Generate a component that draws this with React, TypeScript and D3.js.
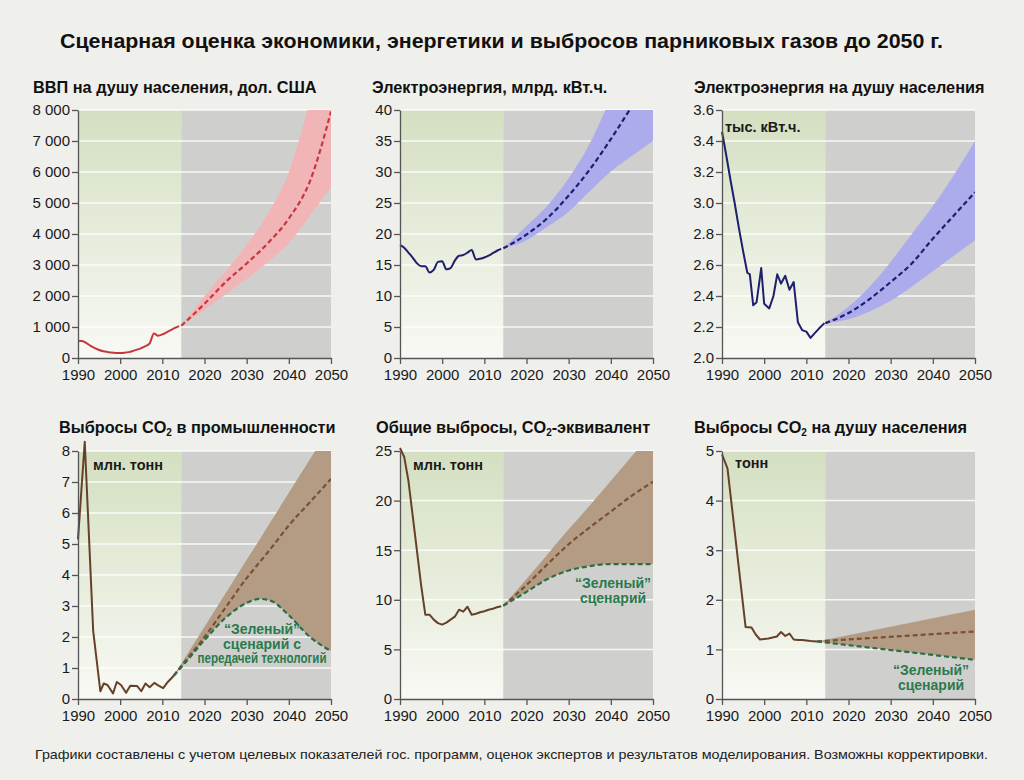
import * as d3 from 'd3'
import { useEffect, useRef } from 'react'

// ---- data ----
const histYears = [1990, 1991, 1992, 1993, 1994, 1995, 1996, 1997, 1998, 1999, 2000, 2001, 2002, 2003, 2004, 2005, 2006, 2007, 2008, 2009, 2010, 2011, 2012, 2013, 2014]
const fcYears = [2014.5, 2020, 2025, 2030, 2035, 2040, 2045, 2050]
const xTicks = [1990, 2000, 2010, 2020, 2030, 2040, 2050]

// ВВП на душу населения
const gdpHist = [560, 550, 480, 390, 320, 260, 220, 195, 175, 165, 160, 170, 190, 225, 270, 320, 380, 470, 790, 720, 760, 830, 900, 970, 1030]
const gdpMid = [1040, 1750, 2450, 3050, 3700, 4500, 5700, 7950]
const gdpHigh = [1040, 2000, 2800, 3650, 4650, 6000, 8300, 11000]
const gdpLow = [1040, 1550, 2050, 2550, 3100, 3700, 4600, 5500]
const gdpTicks = [0, 1000, 2000, 3000, 4000, 5000, 6000, 7000, 8000]

// Электроэнергия, млрд. кВт.ч.
const elecHist = [18.2, 17.8, 17.0, 16.2, 15.3, 14.8, 14.8, 13.8, 14.2, 15.5, 15.6, 14.3, 14.5, 15.7, 16.5, 16.6, 17.0, 17.4, 15.9, 16.0, 16.2, 16.5, 16.9, 17.3, 17.6]
const elecMid = [17.7, 19.9, 22.6, 26.2, 30.4, 35.3, 40.6, 46]
const elecHigh = [17.7, 21.3, 24.6, 29.0, 34.6, 42, 50, 58]
const elecLow = [17.7, 19.0, 21.2, 23.6, 26.9, 30.1, 32.6, 35.0]
const elecTicks = [0, 5, 10, 15, 20, 25, 30, 35, 40]

// Электроэнергия на душу населения
const epcYears = [1990, 1991, 1992, 1993, 1994, 1995, 1996, 1996.6, 1997.4, 1998.2, 1999.3, 2000, 2001.2, 2002.2, 2003.1, 2004, 2005, 2006, 2007, 2008, 2009, 2010, 2011, 2012, 2013, 2014.3]
const epcHist = [3.46, 3.31, 3.15, 3.0, 2.84, 2.69, 2.55, 2.54, 2.34, 2.36, 2.58, 2.35, 2.32, 2.4, 2.54, 2.48, 2.53, 2.44, 2.49, 2.23, 2.18, 2.17, 2.13, 2.16, 2.19, 2.225]
const epcMid = [2.225, 2.29, 2.38, 2.49, 2.61, 2.77, 2.92, 3.07]
const epcHigh = [2.225, 2.33, 2.46, 2.62, 2.8, 2.98, 3.18, 3.4]
const epcLow = [2.225, 2.25, 2.3, 2.37, 2.46, 2.56, 2.66, 2.76]
const epcTicks = [2.0, 2.2, 2.4, 2.6, 2.8, 3.0, 3.2, 3.4, 3.6]

// Выбросы CO2 в промышленности
const indYears = [1990, 1991.6, 1993.6, 1995.3, 1996.1, 1997, 1998.3, 1999.2, 2000.2, 2001.4, 2002.4, 2004, 2005, 2006, 2007, 2008.1, 2009.1, 2010.2, 2011.3, 2012.7]
const indHist = [5.15, 8.3, 2.2, 0.25, 0.5, 0.45, 0.18, 0.55, 0.45, 0.2, 0.43, 0.42, 0.25, 0.5, 0.38, 0.52, 0.43, 0.35, 0.55, 0.75]
const indFcYears = [2012.7, 2015, 2020, 2025, 2030, 2033, 2036, 2040, 2045, 2050]
const indBase = [0.75, 1.15, 2.0, 2.95, 3.9, 4.4, 4.9, 5.6, 6.35, 7.1]
const indHigh = [0.75, 1.25, 2.33, 3.41, 4.49, 5.13, 5.78, 6.65, 7.73, 8.81]
const indGreen = [0.75, 1.1, 1.9, 2.62, 3.1, 3.23, 3.15, 2.7, 2.0, 1.55]
const indTicks = [0, 1, 2, 3, 4, 5, 6, 7, 8]

// Общие выбросы, CO2-эквивалент
const totHist = [25.3, 24.4, 22.0, 18.5, 15.0, 11.5, 8.5, 8.5, 8.0, 7.65, 7.5, 7.7, 8.0, 8.3, 9.0, 8.8, 9.3, 8.5, 8.6, 8.75, 8.85, 9.0, 9.1, 9.25, 9.35]
const totBase = [9.4, 11.5, 13.6, 15.6, 17.3, 18.9, 20.5, 21.9]
const totHigh = [9.4, 12.1, 14.6, 17.1, 19.5, 22.0, 24.5, 27.0]
const totGreen = [9.4, 10.8, 12.1, 12.95, 13.4, 13.6, 13.6, 13.6]
const totTicks = [0, 5, 10, 15, 20, 25]

// Выбросы CO2 на душу населения
const pcYears = [1990, 1991.3, 1995.6, 1997, 1998, 1999, 2000, 2001, 2002, 2003, 2004, 2005, 2006, 2007, 2008, 2009, 2010, 2011, 2012.5]
const pcHist = [4.93, 4.65, 1.45, 1.44, 1.3, 1.2, 1.21, 1.22, 1.24, 1.26, 1.35, 1.27, 1.32, 1.2, 1.19, 1.19, 1.18, 1.17, 1.16]
const pcFcYears = [2012.5, 2050]
const pcBase = [1.16, 1.36]
const pcHigh = [1.16, 1.8]
const pcGreen = [1.16, 0.79]
const pcTicks = [0, 1, 2, 3, 4, 5]

const FONT = '"Liberation Sans", Arial, sans-serif'
const PW = 253
const PH = 248
const SPLIT = 2014.5

const zip = (xs: number[], ys: number[]) => xs.map((x, i) => [x, ys[i]] as [number, number])

type PanelCfg = {
    id: string
    left: number
    top: number
    domain: [number, number]
    ticks: number[]
    fmt: (d: number) => string
    hist: [number, number][]
    histColor: string
    histCurve: d3.CurveFactory
    band: { x: number[]; lo: number[]; hi: number[]; color: string }
    dashed: { pts: [number, number][]; color: string }[]
    unit?: { text: string; x: number; y: number }
    note?: { lines: string[]; x: number; y: number; widths: (number | null)[] }
}

const RED = '#c8363d'
const NAVY = '#1e1f6e'
const BROWN = '#66412a'
const BROWN_D = '#7a5034'
const GREEN = '#2a6d47'
const GREEN_T = '#2a7a4e'

const panels: PanelCfg[] = [
    {
        id: 'p1', left: 78, top: 110, domain: [0, 8000], ticks: gdpTicks,
        fmt: d => (d === 0 ? '0' : `${d / 1000} 000`),
        hist: zip(histYears, gdpHist), histColor: RED, histCurve: d3.curveMonotoneX,
        band: { x: fcYears, lo: gdpLow, hi: gdpHigh, color: '#f1b5b7' },
        dashed: [{ pts: zip(fcYears, gdpMid), color: RED }],
    },
    {
        id: 'p2', left: 400, top: 110, domain: [0, 40], ticks: elecTicks,
        fmt: d => String(d),
        hist: zip(histYears, elecHist), histColor: NAVY, histCurve: d3.curveMonotoneX,
        band: { x: fcYears, lo: elecLow, hi: elecHigh, color: '#acabec' },
        dashed: [{ pts: zip(fcYears, elecMid), color: NAVY }],
    },
    {
        id: 'p3', left: 722, top: 110, domain: [2.0, 3.6], ticks: epcTicks,
        fmt: d => d.toFixed(1),
        hist: zip(epcYears, epcHist), histColor: NAVY, histCurve: d3.curveLinear,
        band: { x: fcYears, lo: epcLow, hi: epcHigh, color: '#acabec' },
        dashed: [{ pts: zip(fcYears, epcMid), color: NAVY }],
        unit: { text: 'тыс. кВт.ч.', x: 725, y: 132 },
    },
    {
        id: 'p4', left: 78, top: 451, domain: [0, 8], ticks: indTicks,
        fmt: d => String(d),
        hist: zip(indYears, indHist), histColor: BROWN, histCurve: d3.curveLinear,
        band: { x: indFcYears, lo: indGreen, hi: indHigh, color: '#b49c84' },
        dashed: [
            { pts: zip(indFcYears, indBase), color: BROWN_D },
            { pts: zip(indFcYears, indGreen), color: GREEN },
        ],
        unit: { text: 'млн. тонн', x: 93, y: 470 },
        note: { lines: ['“Зеленый”', 'сценарий с', 'передачей технологий'], x: 262, y: 634, widths: [null, null, 129] },
    },
    {
        id: 'p5', left: 400, top: 451, domain: [0, 25], ticks: totTicks,
        fmt: d => String(d),
        hist: zip(histYears, totHist), histColor: BROWN, histCurve: d3.curveLinear,
        band: { x: fcYears, lo: totGreen, hi: totHigh, color: '#b49c84' },
        dashed: [
            { pts: zip(fcYears, totBase), color: BROWN_D },
            { pts: zip(fcYears, totGreen), color: GREEN },
        ],
        unit: { text: 'млн. тонн', x: 413, y: 470 },
        note: { lines: ['“Зеленый”', 'сценарий'], x: 613, y: 588, widths: [null, null] },
    },
    {
        id: 'p6', left: 722, top: 451, domain: [0, 5], ticks: pcTicks,
        fmt: d => String(d),
        hist: zip(pcYears, pcHist), histColor: BROWN, histCurve: d3.curveLinear,
        band: { x: pcFcYears, lo: pcGreen, hi: pcHigh, color: '#b49c84' },
        dashed: [
            { pts: zip(pcFcYears, pcBase), color: BROWN_D },
            { pts: zip(pcFcYears, pcGreen), color: GREEN },
        ],
        unit: { text: 'тонн', x: 735, y: 468 },
        note: { lines: ['“Зеленый”', 'сценарий'], x: 931, y: 675, widths: [null, null] },
    },
]

// panel headings; CO2 ones carry a subscript
const panelTitles = [
    { x: 33, y: 93, parts: ['ВВП на душу населения, дол. США'] },
    { x: 372, y: 93, parts: ['Электроэнергия, млрд. кВт.ч.'] },
    { x: 694, y: 93, parts: ['Электроэнергия на душу населения'] },
    { x: 59, y: 433, parts: ['Выбросы CO', '2', ' в промышленности'] },
    { x: 376, y: 433, parts: ['Общие выбросы, CO', '2', '-эквивалент'] },
    { x: 694, y: 433, parts: ['Выбросы CO', '2', ' на душу населения'] },
]

const TITLE = 'Сценарная оценка экономики, энергетики и выбросов парниковых газов до 2050 г.'
const FOOTER = 'Графики составлены с учетом целевых показателей гос. программ, оценок экспертов и результатов моделирования. Возможны корректировки.'

const App = () => {
    const ref = useRef<SVGSVGElement>(null)

    useEffect(() => {
        const svg = d3.select(ref.current)
        svg.selectAll('*').remove()

        const defs = svg.append('defs')
        const grad = defs.append('linearGradient').attr('id', 'histBg')
            .attr('x1', 0).attr('y1', 0).attr('x2', 0).attr('y2', 1)
        grad.append('stop').attr('offset', '0%').attr('stop-color', '#d4dfc1')
        grad.append('stop').attr('offset', '100%').attr('stop-color', '#f8f9f4')

        svg.append('rect').attr('width', 1024).attr('height', 780).attr('fill', '#efefeb')

        svg.append('text')
            .attr('x', 60).attr('y', 48)
            .attr('font-size', 20).attr('font-weight', 'bold')
            .attr('textLength', 883).attr('lengthAdjust', 'spacingAndGlyphs')
            .attr('fill', '#111')
            .text(TITLE)

        svg.append('text')
            .attr('x', 35).attr('y', 759)
            .attr('font-size', 13)
            .attr('textLength', 953).attr('lengthAdjust', 'spacingAndGlyphs')
            .attr('fill', '#222')
            .text(FOOTER)

        panelTitles.forEach(t => {
            const txt = svg.append('text')
                .attr('x', t.x).attr('y', t.y)
                .attr('font-size', 16.3).attr('font-weight', 'bold').attr('fill', '#111')
            txt.append('tspan').text(t.parts[0])
            if (t.parts.length > 1) {
                txt.append('tspan').attr('font-size', 10).attr('dy', 3).text(t.parts[1])
                txt.append('tspan').attr('dy', -3).text(t.parts[2])
            }
        })

        panels.forEach(p => {
            const x = d3.scaleLinear().domain([1990, 2050]).range([0, PW])
            const y = d3.scaleLinear().domain(p.domain).range([PH, 0])
            const g = svg.append('g').attr('transform', `translate(${p.left},${p.top})`)

            defs.append('clipPath').attr('id', `clip-${p.id}`)
                .append('rect').attr('width', PW).attr('height', PH)

            g.append('rect')
                .attr('width', x(SPLIT)).attr('height', PH)
                .attr('fill', 'url(#histBg)')
            g.append('rect')
                .attr('x', x(SPLIT)).attr('width', PW - x(SPLIT)).attr('height', PH)
                .attr('fill', '#cfd0cd')

            // grid
            g.selectAll('.grid')
                .data(p.ticks.slice(1))
                .join('line')
                .attr('x1', 0).attr('x2', PW)
                .attr('y1', d => y(d)).attr('y2', d => y(d))
                .attr('stroke', '#fff').attr('stroke-opacity', 0.85).attr('stroke-width', 1.5)

            const fc = g.append('g').attr('clip-path', `url(#clip-${p.id})`)

            const band = d3.area<number>()
                .x((_, i) => x(p.band.x[i]))
                .y0((_, i) => y(p.band.lo[i]))
                .y1((_, i) => y(p.band.hi[i]))
                .curve(d3.curveMonotoneX)
            fc.append('path')
                .datum(p.band.x)
                .attr('d', band)
                .attr('fill', p.band.color)

            const line = d3.line<[number, number]>()
                .x(d => x(d[0]))
                .y(d => y(d[1]))
                .curve(d3.curveMonotoneX)
            p.dashed.forEach(s => {
                fc.append('path')
                    .datum(s.pts)
                    .attr('d', line)
                    .attr('fill', 'none')
                    .attr('stroke', s.color)
                    .attr('stroke-width', 2.2)
                    .attr('stroke-dasharray', '5,3')
            })

            const hline = d3.line<[number, number]>()
                .x(d => x(d[0]))
                .y(d => y(d[1]))
                .curve(p.histCurve)
            g.append('path')
                .datum(p.hist)
                .attr('d', hline)
                .attr('fill', 'none')
                .attr('stroke', p.histColor)
                .attr('stroke-width', 2)
                .attr('stroke-linejoin', 'round')

            // axes
            const ya = g.append('g')
                .call(d3.axisLeft(y).tickValues(p.ticks).tickFormat(d => p.fmt(d as number))
                    .tickSize(6).tickSizeOuter(0).tickPadding(2))
            const xa = g.append('g')
                .attr('transform', `translate(0,${PH})`)
                .call(d3.axisBottom(x).tickValues(xTicks).tickFormat(d3.format('d'))
                    .tickSize(6).tickSizeOuter(0).tickPadding(5))
            ;[ya, xa].forEach(a => {
                a.select('.domain').attr('stroke', '#555').attr('stroke-width', 1.3)
                a.selectAll('.tick line').attr('stroke', '#555').attr('stroke-width', 1.3)
                a.selectAll('.tick text')
                    .attr('font-family', FONT).attr('font-size', 15).attr('fill', '#1a1a1a')
            })

            if (p.unit) {
                svg.append('text')
                    .attr('x', p.unit.x).attr('y', p.unit.y)
                    .attr('font-size', 14.5).attr('font-weight', 'bold').attr('fill', '#1a1a1a')
                    .text(p.unit.text)
            }
            if (p.note) {
                const n = p.note
                n.lines.forEach((l, i) => {
                    const t = svg.append('text')
                        .attr('x', n.x).attr('y', n.y + i * 14.5)
                        .attr('text-anchor', 'middle')
                        .attr('font-size', 14).attr('font-weight', 'bold').attr('fill', GREEN_T)
                        .text(l)
                    const w = n.widths[i]
                    if (w) t.attr('textLength', w).attr('lengthAdjust', 'spacingAndGlyphs')
                })
            }
        })
    }, [])

    return (
        <div>
            <style>{'body{margin:0}'}</style>
            <svg ref={ref} width={1024} height={780} style={{ display: 'block', fontFamily: FONT }} />
        </div>
    )
}

export default App
